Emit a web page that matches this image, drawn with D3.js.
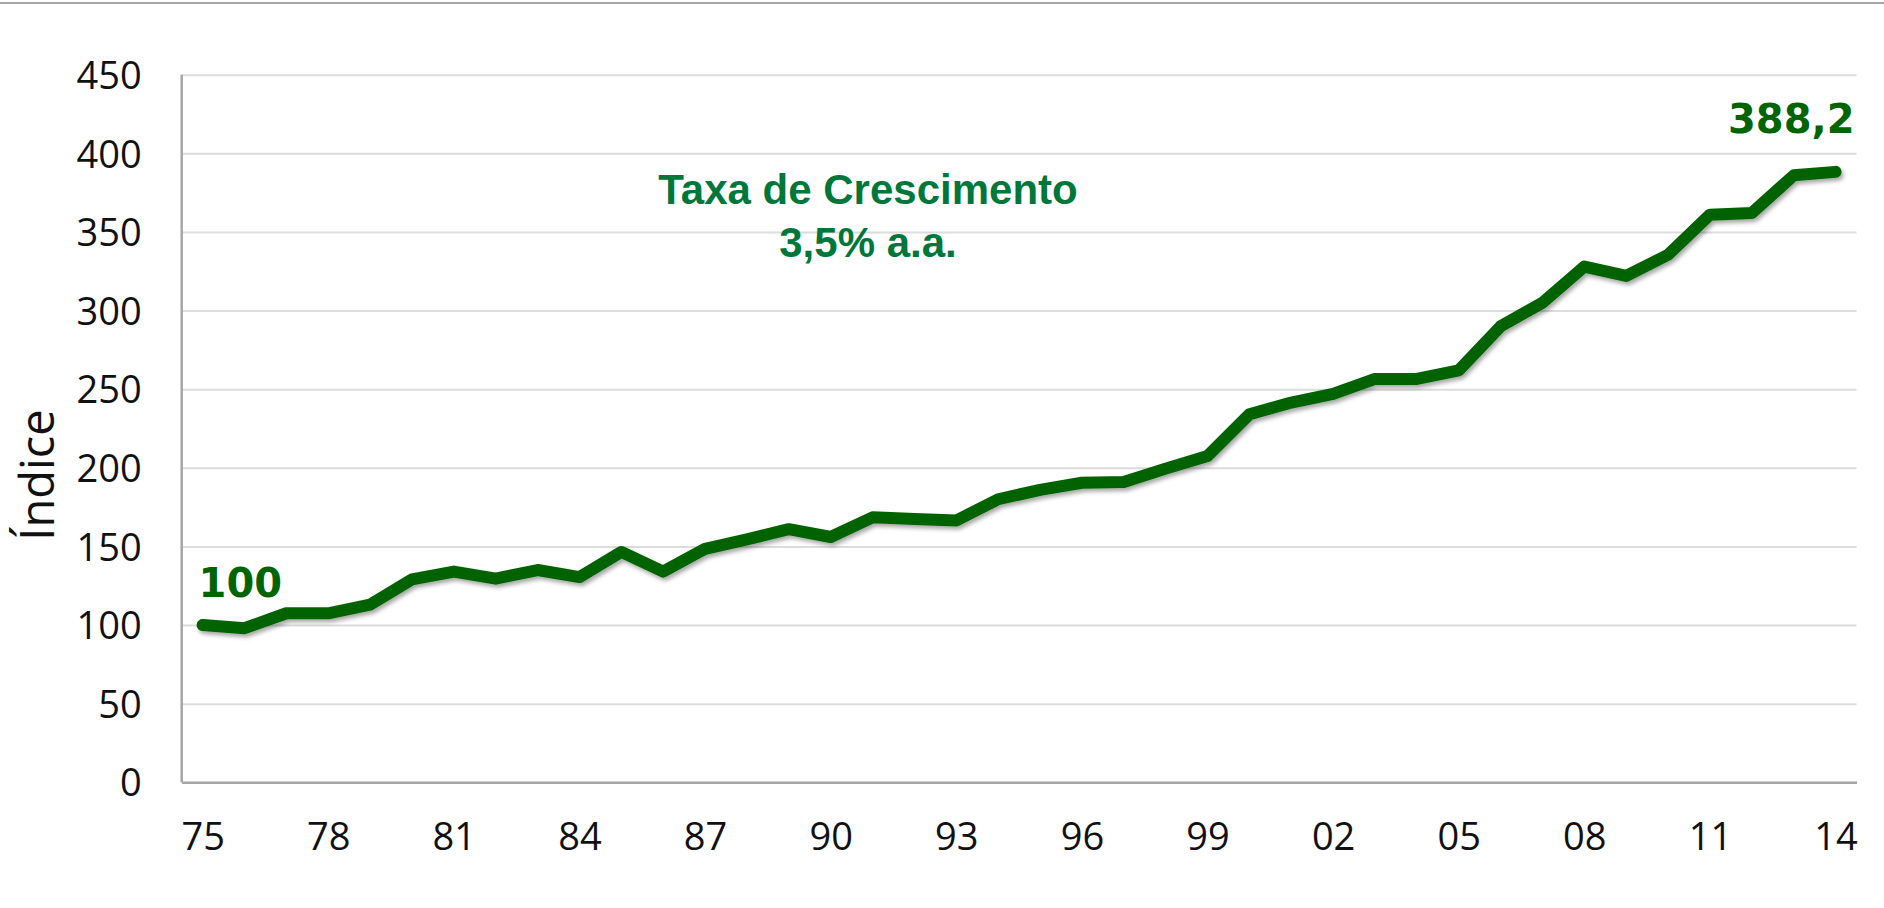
<!DOCTYPE html>
<html lang="pt">
	<head>
		<meta charset="utf-8">
		<title>Índice</title>
		<script src="https://d3js.org/d3.v7.min.js"></script>
		<style>
			body { margin: 0; background: #fff; }
		</style>
	</head>
	<body>
		<div id="chart"></div>
		<script>
// data (index, 1975 = 100)
var years = ["75","76","77","78","79","80","81","82","83","84",
             "85","86","87","88","89","90","91","92","93","94",
             "95","96","97","98","99","00","01","02","03","04",
             "05","06","07","08","09","10","11","12","13","14"]
var values = [100, 98, 107.5, 107.5, 113, 129, 134, 129.5, 135, 130.5,
              146.5, 134, 148.5, 154.5, 161, 156, 168.5, 167.5, 166.5, 180,
              186, 190.5, 191, 199.5, 207.5, 234, 241.5, 247, 256.5, 256.5,
              262, 290, 305, 328, 322, 335.5, 361, 362, 386, 388.2]
var xTickLabels = ["75","78","81","84","87","90","93","96","99","02","05","08","11","14"]
var yTicks = [0, 50, 100, 150, 200, 250, 300, 350, 400, 450]
var yLabel = "Índice"
var noteLines = ["Taxa de Crescimento", "3,5% a.a."]
var firstLabel = "100"
var lastLabel = "388,2"

var W = 1884, H = 908
var margin = {top: 74.7, right: 27.5, bottom: 125.7, left: 181.7}
var width = W - margin.left - margin.right,
    height = H - margin.top - margin.bottom

var svg = d3.select("#chart")
  .append("svg")
    .attr("width", W)
    .attr("height", H)

// thin rule along the top of the slide
svg.append("line")
  .attr("x1", 0).attr("x2", W)
  .attr("y1", 3).attr("y2", 3)
  .attr("stroke", "#a6a6a6")
  .attr("stroke-width", 2)

// drop shadow for the line
var defs = svg.append("defs")
var shadow = defs.append("filter")
  .attr("id", "shadow")
  .attr("x", "-5%").attr("y", "-5%")
  .attr("width", "110%").attr("height", "120%")
shadow.append("feDropShadow")
  .attr("dx", 2).attr("dy", 3)
  .attr("stdDeviation", 2)
  .attr("flood-color", "#000")
  .attr("flood-opacity", 0.35)

var g = svg.append("g")
  .attr("transform", `translate(${margin.left}, ${margin.top})`)

var x = d3.scalePoint()
  .domain(years)
  .range([0, width])
  .padding(0.5)

var y = d3.scaleLinear()
  .domain([0, 450])
  .range([height, 0])

// y axis with gridlines
var yAxis = g.append("g")
  .call(d3.axisLeft(y)
    .tickValues(yTicks)
    .tickSize(-width)
    .tickPadding(40))
yAxis.select(".domain").remove()
yAxis.selectAll(".tick line")
  .attr("stroke", "#dcdcdc")
  .attr("stroke-width", 2)
yAxis.selectAll(".tick text")
  .attr("font-family", "'Open Sans', sans-serif")
  .attr("font-size", 38)
  .attr("fill", "#111")
  .attr("dy", "0.36em")

// left axis line
g.append("line")
  .attr("x1", 0).attr("x2", 0)
  .attr("y1", 0).attr("y2", height)
  .attr("stroke", "#a6a6a6")
  .attr("stroke-width", 2.5)

// x axis
var xAxis = g.append("g")
  .attr("transform", `translate(0, ${height})`)
  .call(d3.axisBottom(x)
    .tickValues(xTickLabels)
    .tickSize(0))
xAxis.select(".domain")
  .attr("stroke", "#a6a6a6")
  .attr("stroke-width", 2.5)
xAxis.selectAll(".tick text")
  .attr("font-family", "'Open Sans', sans-serif")
  .attr("font-size", 38)
  .attr("fill", "#111")
  .attr("y", 68)
  .attr("dy", 0)

// y label
svg.append("text")
  .attr("transform", `translate(54, 475) rotate(-90)`)
  .attr("text-anchor", "middle")
  .attr("font-family", "'Open Sans', sans-serif")
  .attr("font-size", 47)
  .attr("fill", "#111")
  .text(yLabel)

// the index line
var line = d3.line()
  .x((d, i) => x(years[i]))
  .y(d => y(d))

g.append("path")
  .datum(values)
  .attr("d", line)
  .attr("fill", "none")
  .attr("stroke", "#006400")
  .attr("stroke-width", 12)
  .attr("stroke-linejoin", "round")
  .attr("stroke-linecap", "round")
  .attr("filter", "url(#shadow)")

// end labels
g.append("text")
  .attr("x", x(years[0]) - 4)
  .attr("y", y(values[0]) - 28)
  .attr("font-family", "'DejaVu Sans', sans-serif")
  .attr("font-weight", "bold")
  .attr("font-size", 40)
  .attr("fill", "#006400")
  .text(firstLabel)

g.append("text")
  .attr("x", width - 2)
  .attr("y", y(values[values.length - 1]) - 39)
  .attr("text-anchor", "end")
  .attr("font-family", "'DejaVu Sans', sans-serif")
  .attr("font-weight", "bold")
  .attr("font-size", 40)
  .attr("fill", "#006400")
  .text(lastLabel)

// growth rate note
var note = svg.append("text")
  .attr("text-anchor", "middle")
  .attr("font-family", "'Liberation Sans', Arial, sans-serif")
  .attr("font-weight", "bold")
  .attr("font-size", 42)
  .attr("fill", "#00773a")
note.selectAll("tspan")
  .data(noteLines)
  .join("tspan")
    .attr("x", 868)
    .attr("y", (d, i) => 204 + i * 53)
    .text(d => d)
		</script>
	</body>
</html>
